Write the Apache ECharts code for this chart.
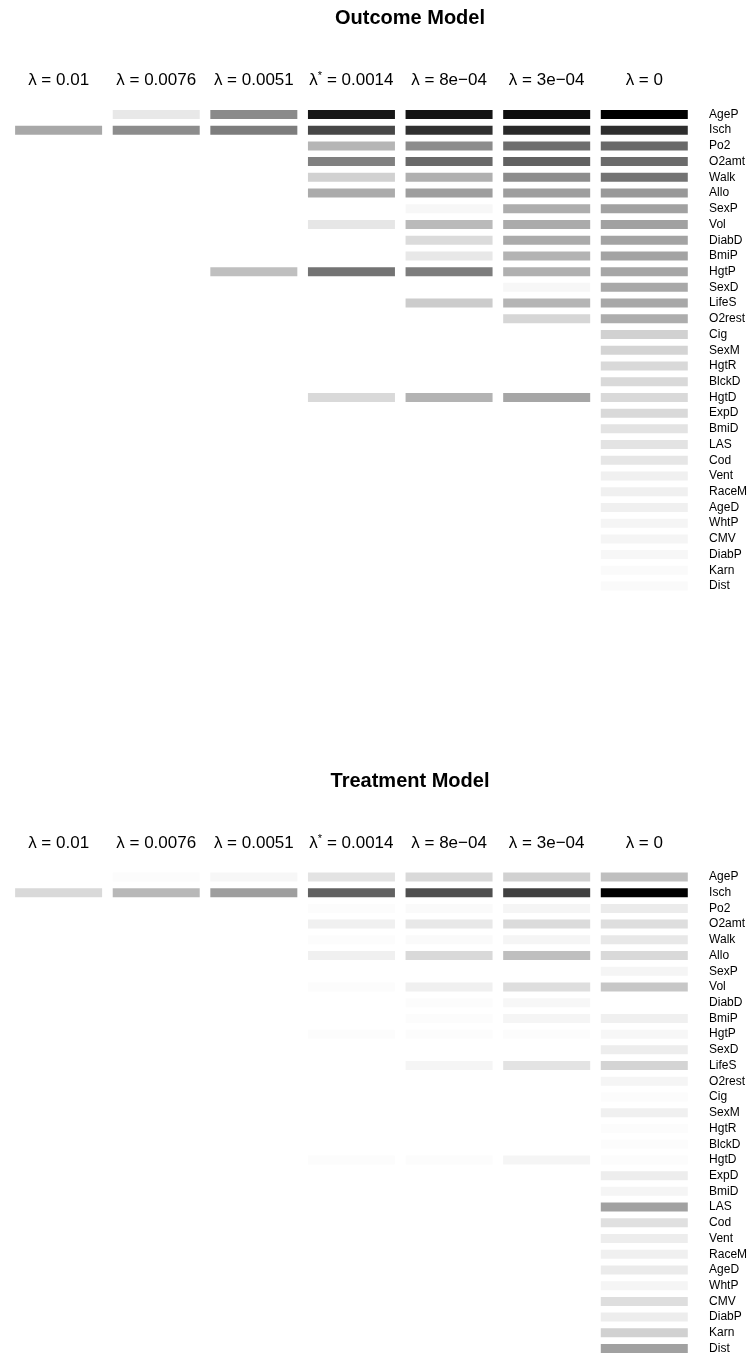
<!DOCTYPE html>
<html>
<head>
<meta charset="utf-8">
<script src="https://cdn.jsdelivr.net/npm/echarts@6/dist/echarts.min.js"></script>
<style>
  html, body { margin: 0; padding: 0; background: #fff; }
  #main { width: 755px; height: 1357px; }
</style>
</head>
<body>
<div id="main"></div>
<script>
// column headers (penalty values)
var lambdas = ['λ = 0.01', 'λ = 0.0076', 'λ = 0.0051', 'λ* = 0.0014', 'λ = 8e\u221204', 'λ = 3e\u221204', 'λ = 0'];

var variables = ['AgeP', 'Isch', 'Po2', 'O2amt', 'Walk', 'Allo', 'SexP', 'Vol', 'DiabD', 'BmiP',
  'HgtP', 'SexD', 'LifeS', 'O2rest', 'Cig', 'SexM', 'HgtR', 'BlckD', 'HgtD', 'ExpD',
  'BmiD', 'LAS', 'Cod', 'Vent', 'RaceM', 'AgeD', 'WhtP', 'CMV', 'DiabP', 'Karn', 'Dist'];

// relative importance (0-100), one row per variable, one entry per lambda; null = not selected
var outcomeImp = [
  [null, 9, 46, 91, 92, 95, 100],
  [34, 45, 51, 72, 81, 84, 82],
  [null, null, null, 29, 45, 57, 59],
  [null, null, null, 50, 59, 62, 58],
  [null, null, null, 18, 31, 45, 55],
  [null, null, null, 33, 38, 38, 40],
  [null, null, null, null, 3, 32, 37],
  [null, null, null, 10, 27, 33, 37],
  [null, null, null, null, 14, 33, 36],
  [null, null, null, null, 9, 30, 36],
  [null, null, 25, 55, 51, 31, 35],
  [null, null, null, null, null, 3, 34],
  [null, null, null, null, 20, 29, 34],
  [null, null, null, null, null, 16, 32],
  [null, null, null, null, null, null, 18],
  [null, null, null, null, null, null, 17],
  [null, null, null, null, null, null, 15],
  [null, null, null, null, null, null, 15],
  [null, null, null, 15, 30, 35, 15],
  [null, null, null, null, null, null, 15],
  [null, null, null, null, null, null, 11],
  [null, null, null, null, null, null, 11],
  [null, null, null, null, null, null, 10],
  [null, null, null, null, null, null, 6],
  [null, null, null, null, null, null, 6],
  [null, null, null, null, null, null, 6],
  [null, null, null, null, null, null, 4],
  [null, null, null, null, null, null, 4],
  [null, null, null, null, null, null, 3],
  [null, null, null, null, null, null, 2],
  [null, null, null, null, null, null, 2]
];

var treatmentImp = [
  [null, 1, 3, 11, 15, 18, 25],
  [15, 28, 38, 62, 69, 75, 100],
  [null, null, null, 1, 2, 4, 8],
  [null, null, null, 6, 9, 14, 13],
  [null, null, null, 1, 2, 4, 9],
  [null, null, null, 6, 15, 25, 15],
  [null, null, null, null, null, null, 4],
  [null, null, null, 1, 6, 13, 22],
  [null, null, null, null, 1, 3, null],
  [null, null, null, null, 1, 4, 6],
  [null, null, null, 1, 1, 1, 3],
  [null, null, null, null, null, null, 7],
  [null, null, null, null, 4, 11, 17],
  [null, null, null, null, null, null, 4],
  [null, null, null, null, null, null, 1],
  [null, null, null, null, null, null, 6],
  [null, null, null, null, null, null, 1],
  [null, null, null, null, null, null, 1],
  [null, null, null, 1, 1, 4, 1],
  [null, null, null, null, null, null, 7],
  [null, null, null, null, null, null, 4],
  [null, null, null, null, null, null, 37],
  [null, null, null, null, null, null, 12],
  [null, null, null, null, null, null, 7],
  [null, null, null, null, null, null, 6],
  [null, null, null, null, null, null, 8],
  [null, null, null, null, null, null, 4],
  [null, null, null, null, null, null, 13],
  [null, null, null, null, null, null, 7],
  [null, null, null, null, null, null, 18],
  [null, null, null, null, null, null, 37]
];

function toCells(rows) {
  var out = [];
  for (var r = 0; r < rows.length; r++) {
    for (var c = 0; c < rows[r].length; c++) {
      if (rows[r][c] != null) out.push([c, r, rows[r][c]]);
    }
  }
  return out;
}

var font = 'Liberation Sans, Arial, sans-serif';

function headerFmt(v) {
  if (v.indexOf('λ*') === 0) return '{g|λ}{s|*}{g|' + v.slice(2) + '}';
  return '{g|' + v + '}';
}

var tops = [106.6, 869.1];
var titles = ['Outcome Model', 'Treatment Model'];

var option = {
  backgroundColor: '#fff',
  animation: false,
  graphic: titles.map(function (t, i) {
    return {
      type: 'text', x: 410, y: tops[i] - 88,
      style: { text: t, font: 'bold 20px ' + font, fill: '#000', textAlign: 'center', textVerticalAlign: 'middle' }
    };
  }),
  grid: tops.map(function (t) {
    return { left: 9.8, right: 61.9, top: t, height: 487.3 };
  }),
  xAxis: tops.map(function (t, i) {
    return {
      type: 'category', gridIndex: i, position: 'top', data: lambdas,
      axisLine: { show: false }, axisTick: { show: false }, splitLine: { show: false },
      axisLabel: {
        margin: 16, interval: 0, formatter: headerFmt, color: '#000',
        rich: {
          g: { fontFamily: font, fontSize: 17, lineHeight: 20, color: '#000' },
          s: { fontFamily: font, fontSize: 11, verticalAlign: 'top', color: '#000' }
        }
      }
    };
  }),
  yAxis: tops.map(function (t, i) {
    return {
      type: 'category', gridIndex: i, position: 'right', inverse: true, data: variables,
      axisLine: { show: false }, axisTick: { show: false }, splitLine: { show: false },
      axisLabel: { margin: 16, interval: 0, fontFamily: font, fontSize: 12, color: '#000' }
    };
  }),
  visualMap: {
    type: 'continuous', show: false, min: 0, max: 100, dimension: 2,
    seriesIndex: [0, 1],
    inRange: { color: ['#ffffff', '#000000'] }
  },
  series: [
    {
      type: 'scatter', xAxisIndex: 0, yAxisIndex: 0, symbol: 'rect', symbolSize: [87, 9],
      data: toCells(outcomeImp), itemStyle: { opacity: 1 }
    },
    {
      type: 'scatter', xAxisIndex: 1, yAxisIndex: 1, symbol: 'rect', symbolSize: [87, 9],
      data: toCells(treatmentImp), itemStyle: { opacity: 1 }
    }
  ]
};

echarts.init(document.getElementById('main'), null, { renderer: 'canvas' }).setOption(option);
</script>
</body>
</html>
